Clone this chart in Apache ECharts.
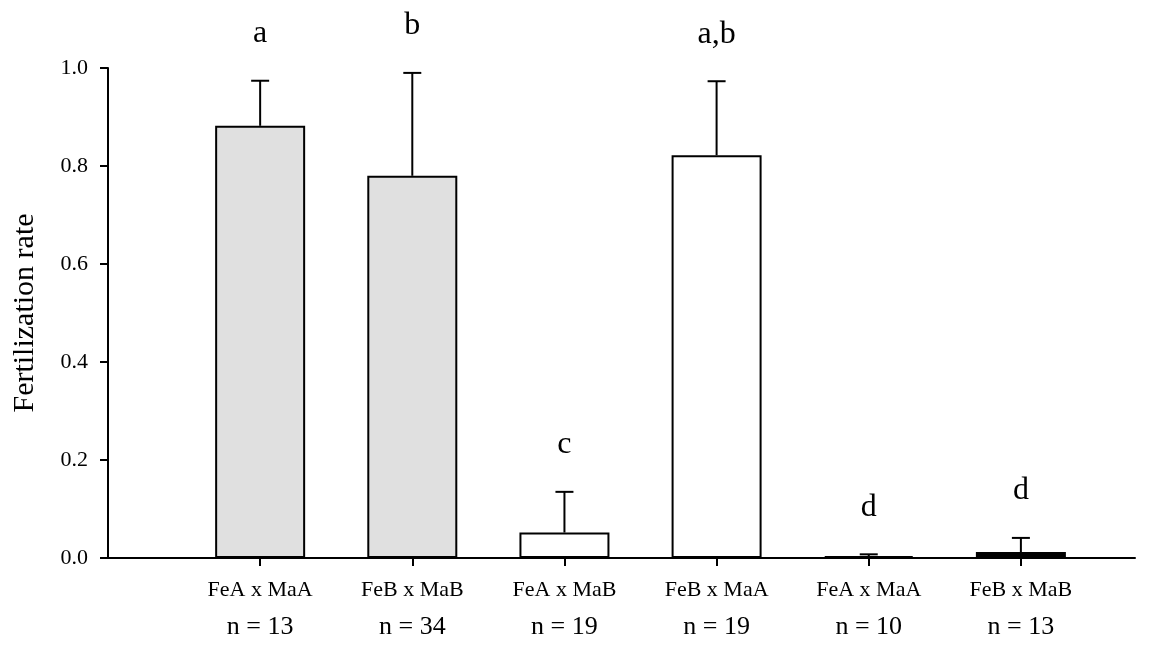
<!DOCTYPE html>
<html>
<head>
<meta charset="utf-8">
<script src="https://cdn.jsdelivr.net/npm/echarts@6/dist/echarts.min.js"></script>
<style>html,body{margin:0;padding:0;background:#fff;}#c{width:1171px;height:648px;}</style>
</head>
<body>
<div id="c"></div>
<script>
const categories = ['FeA x MaA', 'FeB x MaB', 'FeA x MaB', 'FeB x MaA', 'FeA x MaA', 'FeB x MaB'];
const sampleSizes = ['n = 13', 'n = 34', 'n = 19', 'n = 19', 'n = 10', 'n = 13'];
const meanValues = [0.882, 0.780, 0.052, 0.822, 0.004, 0.012];
const errorTops = [0.974, 0.990, 0.135, 0.973, 0.0075, 0.041];
const sigLetters = ['a', 'b', 'c', 'a,b', 'd', 'd'];
const barColors = ['#e0e0e0', '#e0e0e0', '#ffffff', '#ffffff', '#000000', '#000000'];
const yTicks = [0, 0.2, 0.4, 0.6, 0.8, 1.0];

const positions = categories.map((c, i) => i + 1);
const font = '"Liberation Serif", "Times New Roman", serif';

const chart = echarts.init(document.getElementById('c'), null, {renderer: 'canvas'});
chart.setOption({
  backgroundColor: '#fff',
  animation: false,
  grid: {left: 108, right: 36, top: 68, bottom: 90},
  xAxis: {
    type: 'value', min: 0, max: 6.75,
    splitLine: {show: false},
    axisLine: {show: true, lineStyle: {color: '#000', width: 2}},
    axisTick: {show: true, customValues: positions, length: 8, lineStyle: {color: '#000', width: 2}},
    axisLabel: {
      customValues: positions, margin: 17,
      formatter: v => '{c|' + categories[v - 1] + '}\n{n|' + sampleSizes[v - 1] + '}',
      rich: {
        c: {fontFamily: font, fontSize: 22, color: '#000', lineHeight: 30},
        n: {fontFamily: font, fontSize: 26, color: '#000', lineHeight: 44}
      }
    }
  },
  yAxis: {
    type: 'value', min: 0, max: 1, interval: 0.2,
    name: 'Fertilization rate', nameLocation: 'middle', nameGap: 68,
    nameTextStyle: {fontFamily: font, fontSize: 30, color: '#000'},
    splitLine: {show: false},
    axisLine: {show: true, lineStyle: {color: '#000', width: 2}},
    axisTick: {show: true, length: 8, lineStyle: {color: '#000', width: 2}},
    axisLabel: {fontFamily: font, fontSize: 22, color: '#000', margin: 20,
      customValues: yTicks,
      formatter: v => v.toFixed(1)}
  },
  series: [
    {
      type: 'bar', barWidth: 90,
      data: positions.map((p, i) => ({value: [p, meanValues[i]], itemStyle: {color: barColors[i]}})),
      itemStyle: {borderColor: '#000', borderWidth: 2},
      z: 2
    },
    {
      type: 'custom', z: 3,
      data: positions.map((p, i) => [p, meanValues[i], errorTops[i], i]),
      renderItem: function (params, api) {
        const x = api.value(0), m = api.value(1), e = api.value(2), i = api.value(3);
        const p0 = api.coord([x, m]);
        const p1 = api.coord([x, e]);
        const style = {stroke: '#000', lineWidth: 2};
        return {
          type: 'group',
          children: [
            {type: 'line', shape: {x1: p0[0], y1: p0[1], x2: p1[0], y2: p1[1]}, style: style},
            {type: 'line', shape: {x1: p1[0] - 9, y1: p1[1], x2: p1[0] + 9, y2: p1[1]}, style: style},
            {type: 'text', style: {text: sigLetters[i], x: p1[0], y: p1[1] - 47, align: 'center', verticalAlign: 'middle',
              fontFamily: font, fontSize: 32, fill: '#000'}}
          ]
        };
      }
    }
  ]
});
</script>
</body>
</html>
